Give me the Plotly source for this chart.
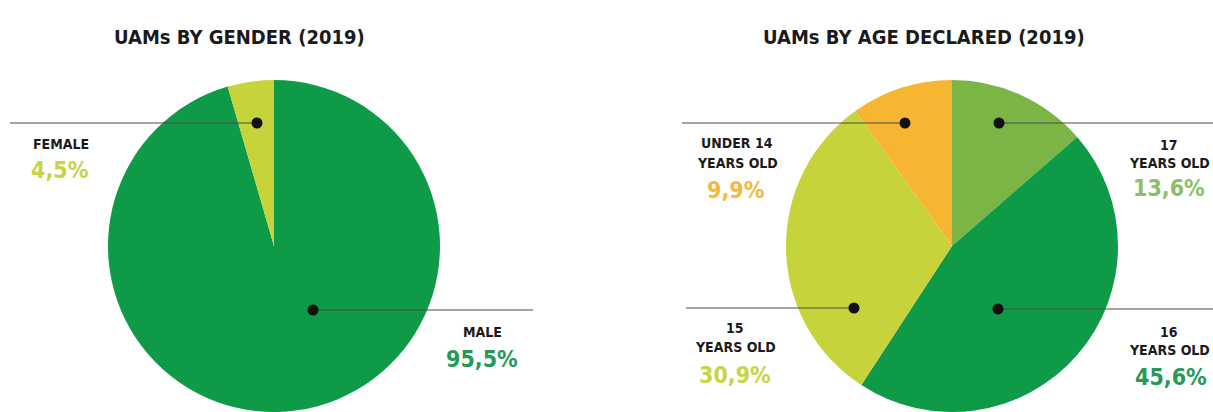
import plotly.graph_objects as go

W, H = 1213, 412

gender_labels = ["MALE", "FEMALE"]
gender_values = [95.5, 4.5]
gender_text = ["95,5%", "4,5%"]

age_labels = ["17 YEARS OLD", "16 YEARS OLD", "15 YEARS OLD", "UNDER 14 YEARS OLD"]
age_values = [13.6, 45.6, 30.9, 9.9]
age_text = ["13,6%", "45,6%", "30,9%", "9,9%"]

DARK = "#0f9a48"
LIME = "#c6d33a"
ORANGE = "#f6b632"
MID = "#7ab545"

gender_colors = [DARK, LIME]
age_colors = [MID, DARK, LIME, ORANGE]

COND = "DejaVu Sans Condensed, sans-serif"

R = 166


def dom_x(cx, r):
    return [(cx - r) / W, (cx + r) / W]


fig = go.Figure()
fig.add_trace(go.Pie(
    labels=gender_labels, values=gender_values, sort=False, direction="clockwise",
    rotation=0, marker=dict(colors=gender_colors, line=dict(width=0)),
    textinfo="none", hoverinfo="label+percent", showlegend=False,
    domain=dict(x=dom_x(274, R), y=[0, 2 * R / H]),
))
fig.add_trace(go.Pie(
    labels=age_labels, values=age_values, sort=False, direction="clockwise",
    rotation=0, marker=dict(colors=age_colors, line=dict(width=0)),
    textinfo="none", hoverinfo="label+percent", showlegend=False,
    domain=dict(x=dom_x(952, R), y=[0, 2 * R / H]),
))

shapes = []
annotations = []


def line(x0, x1, y):
    shapes.append(dict(type="line", xref="x", yref="y", x0=x0, x1=x1, y0=y, y1=y,
                       line=dict(color="#4a4a4a", width=1.2)))


def dot(x, y, r=5.5):
    shapes.append(dict(type="circle", xref="x", yref="y", x0=x - r, x1=x + r,
                       y0=y - r, y1=y + r, fillcolor="#111111",
                       line=dict(width=0)))


def text(x, y, s, size, color="#1a1a1a", family=COND):
    annotations.append(dict(x=x, y=y, xref="x", yref="y", text=s, showarrow=False,
                            font=dict(family=family, size=size, color=color),
                            xanchor="center", yanchor="middle"))


LBL = 14
PCT = 23

# titles
text(239, 37, "<b>UAMs BY GENDER (2019)</b>", 20)
text(924, 37, "<b>UAMs BY AGE DECLARED (2019)</b>", 20)

# gender callouts
line(10, 257, 123); dot(257, 123)
line(313, 533, 310); dot(313, 310)
text(61, 144, "<b>FEMALE</b>", LBL)
text(60, 170, "<b>" + gender_text[1] + "</b>", PCT, "#c8d444")
text(482, 332, "<b>MALE</b>", LBL)
text(482, 359, "<b>" + gender_text[0] + "</b>", PCT, "#23995a")

# age callouts
line(682, 905, 123); dot(905, 123)
line(999, 1213, 123); dot(999, 123)
line(686, 854, 308); dot(854, 308)
line(998, 1213, 309); dot(998, 309)

text(737, 143, "<b>UNDER 14</b>", LBL)
text(737, 163, "<b>YEARS OLD</b>", LBL)
text(736, 190, "<b>" + age_text[3] + "</b>", PCT, "#f4b940")

text(1169, 145, "<b>17</b>", LBL)
text(1169, 163, "<b>YEARS OLD</b>", LBL)
text(1169, 188, "<b>" + age_text[0] + "</b>", PCT, "#8cbd68")

text(735, 328, "<b>15</b>", LBL)
text(735, 347, "<b>YEARS OLD</b>", LBL)
text(735, 375, "<b>" + age_text[2] + "</b>", PCT, "#c8d444")

text(1169, 332, "<b>16</b>", LBL)
text(1169, 350, "<b>YEARS OLD</b>", LBL)
text(1171, 377, "<b>" + age_text[1] + "</b>", PCT, "#23995a")

fig.update_layout(
    width=W, height=H, margin=dict(l=0, r=0, t=0, b=0),
    paper_bgcolor="white", plot_bgcolor="rgba(0,0,0,0)",
    xaxis=dict(range=[0, W], visible=False, fixedrange=True, domain=[0, 1]),
    yaxis=dict(range=[H, 0], visible=False, fixedrange=True, domain=[0, 1]),
    shapes=shapes, annotations=annotations, showlegend=False,
)

fig.write_html("out.html", config={"displayModeBar": False},
               post_script="document.body.style.margin='0';document.body.style.overflow='hidden';")
